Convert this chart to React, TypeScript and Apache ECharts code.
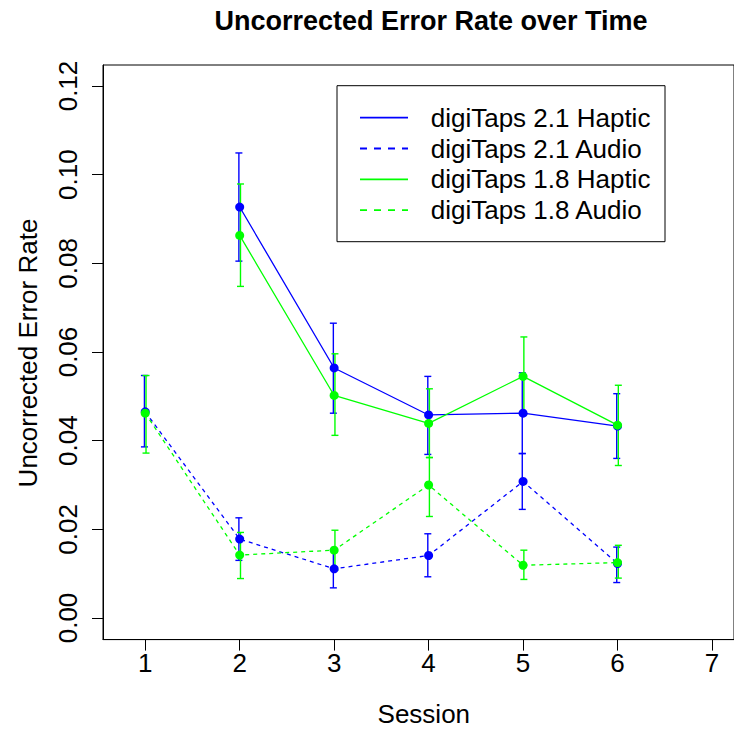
import React, { useEffect, useRef } from "react";
import * as echarts from "echarts";

const sessions = [1, 2, 3, 4, 5, 6];
const xTicks = [1, 2, 3, 4, 5, 6, 7];
const yTicks = [0, 0.02, 0.04, 0.06, 0.08, 0.1, 0.12];

const haptic21 = [null, 0.0927, 0.0564, 0.0458, 0.0462, 0.0433];
const haptic21Lo = [null, 0.0805, 0.0462, 0.0369, 0.0371, 0.036];
const haptic21Hi = [null, 0.1049, 0.0665, 0.0545, 0.0553, 0.0506];

const audio21 = [0.0465, 0.0178, 0.0111, 0.0141, 0.0308, 0.0123];
const audio21Lo = [0.0386, 0.013, 0.0068, 0.0093, 0.0245, 0.008];
const audio21Hi = [0.0547, 0.0226, 0.0154, 0.019, 0.0371, 0.016];

const haptic18 = [null, 0.0863, 0.0502, 0.0439, 0.0545, 0.0435];
const haptic18Lo = [null, 0.0748, 0.0412, 0.0362, 0.0459, 0.0344];
const haptic18Hi = [null, 0.0979, 0.0596, 0.0517, 0.0634, 0.0525];

const audio18 = [0.0462, 0.0142, 0.0153, 0.03, 0.0119, 0.0125];
const audio18Lo = [0.0372, 0.0089, 0.0108, 0.0229, 0.0087, 0.009];
const audio18Hi = [0.0547, 0.0193, 0.0198, 0.0362, 0.0153, 0.0164];

const seriesNames = [
  "digiTaps 2.1 Haptic",
  "digiTaps 2.1 Audio",
  "digiTaps 1.8 Haptic",
  "digiTaps 1.8 Audio",
];

const BLUE = "#0000ff";
const GREEN = "#00ff00";
const FONT = "'Liberation Sans', Arial, Helvetica, sans-serif";

function pts(vals: (number | null)[]) {
  const out: number[][] = [];
  vals.forEach((v, i) => {
    if (v !== null) out.push([sessions[i], v]);
  });
  return out;
}
function bars(lo: (number | null)[], hi: (number | null)[]) {
  const out: number[][] = [];
  lo.forEach((l, i) => {
    const h = hi[i];
    if (l !== null && h !== null) out.push([sessions[i], l, h]);
  });
  return out;
}

function lineSeries(name: string, vals: (number | null)[], color: string, dashed: boolean) {
  return {
    name,
    type: "line",
    data: pts(vals),
    symbol: "circle",
    symbolSize: 9,
    showSymbol: true,
    lineStyle: { color, width: 1.3, type: dashed ? [4, 4] : "solid" },
    itemStyle: { color },
    z: 3,
  };
}

function errSeries(lo: (number | null)[], hi: (number | null)[], color: string, dx: number) {
  return {
    type: "custom",
    data: bars(lo, hi),
    z: 2,
    renderItem: (params: any, api: any) => {
      const x = api.value(0);
      const pLo = api.coord([x, api.value(1)]);
      const pHi = api.coord([x, api.value(2)]);
      const cx = pLo[0] + dx;
      const cap = 3.5;
      const st = { stroke: color, lineWidth: 1.4 };
      return {
        type: "group",
        children: [
          { type: "line", shape: { x1: cx, y1: pLo[1], x2: cx, y2: pHi[1] }, style: st },
          { type: "line", shape: { x1: cx - cap, y1: pLo[1], x2: cx + cap, y2: pLo[1] }, style: st },
          { type: "line", shape: { x1: cx - cap, y1: pHi[1], x2: cx + cap, y2: pHi[1] }, style: st },
        ],
      };
    },
  };
}

export default function App() {
  const ref = useRef<HTMLDivElement>(null);
  useEffect(() => {
    if (!ref.current) return;
    const chart = echarts.init(ref.current, null, { renderer: "svg" });
    const legendColors = [BLUE, BLUE, GREEN, GREEN];
    const legendDashed = [false, true, false, true];
    const legendRowY = [117.7, 148.5, 179.3, 210.1];
    const legendItems: any[] = [];
    seriesNames.forEach((n, i) => {
      legendItems.push({
        type: "line",
        shape: { x1: 360, y1: legendRowY[i], x2: 408, y2: legendRowY[i] },
        style: {
          stroke: legendColors[i],
          lineWidth: 1.8,
          lineDash: legendDashed[i] ? [7, 7] : null,
        },
      });
      legendItems.push({
        type: "text",
        x: 430.7,
        y: legendRowY[i],
        style: {
          text: n,
          font: `26px ${FONT}`,
          fill: "#000",
          align: "left",
          verticalAlign: "middle",
        },
      });
    });

    chart.setOption({
      animation: false,
      backgroundColor: "#fff",
      grid: {
        left: 103,
        top: 65,
        width: 640,
        height: 574.6,
        show: true,
        borderColor: "#000",
        borderWidth: 1,
        backgroundColor: "transparent",
      },
      xAxis: {
        type: "value",
        min: 0.553,
        max: 7.233,
        splitLine: { show: false },
        axisLine: { show: true, onZero: false, lineStyle: { color: "#000", width: 1 } },
        axisTick: { show: true, customValues: xTicks, length: 11, inside: false, lineStyle: { color: "#000" } },
        axisLabel: {
          customValues: xTicks,
          fontSize: 26,
          fontFamily: FONT,
          color: "#000",
          margin: 10,
          formatter: (v: number) => String(v),
        },
      },
      yAxis: {
        type: "value",
        min: -0.00487,
        max: 0.12474,
        splitLine: { show: false },
        axisLine: { show: true, onZero: false, lineStyle: { color: "#000", width: 1 } },
        axisTick: { show: true, customValues: yTicks, length: 11, inside: false, lineStyle: { color: "#000" } },
        axisLabel: {
          customValues: yTicks,
          rotate: 90,
          fontSize: 26,
          fontFamily: FONT,
          color: "#000",
          margin: 22,
          formatter: (v: number) => v.toFixed(2),
        },
      },
      graphic: [
        {
          type: "text",
          x: 431,
          y: 21,
          style: {
            text: "Uncorrected Error Rate over Time",
            font: `bold 27px ${FONT}`,
            fill: "#000",
            align: "center",
            verticalAlign: "middle",
          },
        },
        {
          type: "text",
          x: 423.8,
          y: 714,
          style: {
            text: "Session",
            font: `26px ${FONT}`,
            fill: "#000",
            align: "center",
            verticalAlign: "middle",
          },
        },
        {
          type: "text",
          x: 28,
          y: 353,
          rotation: Math.PI / 2,
          style: {
            text: "Uncorrected Error Rate",
            font: `26px ${FONT}`,
            fill: "#000",
            align: "center",
            verticalAlign: "middle",
          },
        },
        {
          type: "rect",
          shape: { x: 337, y: 85.7, width: 328, height: 156 },
          style: { fill: "#fff", stroke: "#000", lineWidth: 1 },
        },
        ...legendItems,
      ],
      series: [
        errSeries(haptic21Lo, haptic21Hi, BLUE, -0.8),
        errSeries(audio21Lo, audio21Hi, BLUE, -0.8),
        errSeries(haptic18Lo, haptic18Hi, GREEN, 0.8),
        errSeries(audio18Lo, audio18Hi, GREEN, 0.8),
        lineSeries(seriesNames[0], haptic21, BLUE, false),
        lineSeries(seriesNames[1], audio21, BLUE, true),
        lineSeries(seriesNames[2], haptic18, GREEN, false),
        lineSeries(seriesNames[3], audio18, GREEN, true),
      ],
    });
    return () => chart.dispose();
  }, []);
  return (
    <div
      ref={ref}
      style={{ position: "fixed", left: 0, top: 0, width: 734, height: 729, background: "#fff" }}
    />
  );
}
